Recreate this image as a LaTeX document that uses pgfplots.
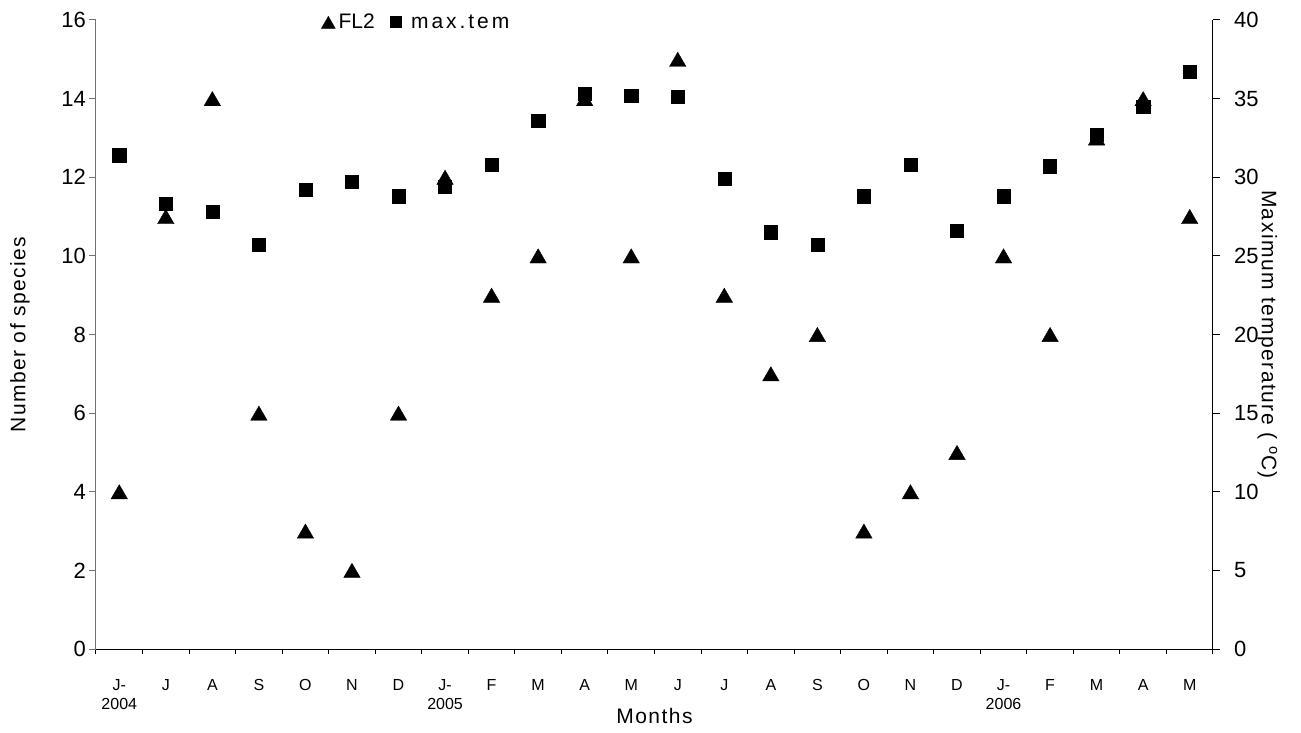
\documentclass[border=0pt]{standalone}
\usepackage{fontspec}
\setmainfont{Liberation Sans}
\newfontfamily\spaced[LetterSpace=7]{Liberation Sans}
\newfontfamily\wide[LetterSpace=14]{Liberation Sans}
\usepackage{pgfplots}
\usepackage{pgfplotstable}
\pgfplotsset{compat=1.18}

\pgfplotstableread{
x fl2 tem
0 4 31.4
1 11 28.3
2 14 27.8
3 6 25.7
4 3 29.2
5 2 29.7
6 6 28.8
7 12 29.4
8 9 30.8
9 10 33.6
10 14 35.3
11 10 35.2
12 15 35.1
13 9 29.9
14 7 26.5
15 8 25.7
16 3 28.8
17 4 30.8
18 5 26.6
19 10 28.8
20 8 30.7
21 13 32.7
22 14 34.5
23 11 36.7
}\data

\begin{document}
\begin{tikzpicture}
\useasboundingbox (-96bp,-84bp) rectangle (1205bp,649bp);
\begin{axis}[
  at={(0,0)}, anchor=south west,
  scale only axis, width=1117bp, height=629bp,
  xmin=-0.5, xmax=23.5, ymin=0, ymax=16,
  axis x line*=bottom, axis y line*=left,
  x axis line style={black, line width=1bp},
  y axis line style={black!55, line width=1bp},
  tick align=outside,
  xtick={0,...,23},
  xticklabels={J-,J,A,S,O,N,D,J-,F,M,A,M,J,J,A,S,O,N,D,J-,F,M,A,M},
  minor xtick={-0.5,0.5,...,23.5},
  major x tick style={draw=none},
  minor x tick style={black, line width=1bp},
  minor tick length=5bp,
  major tick length=6.7bp,
  ytick={0,2,...,16},
  y tick style={black!55, line width=1bp},
  /pgf/number format/assume math mode=true,
  yticklabel style={font=\fontsize{22bp}{26bp}\selectfont},
  xticklabel style={font=\fontsize{16bp}{19bp}\selectfont, anchor=base, yshift=-35bp},
  extra x ticks={0,7,19},
  extra x tick labels={2004,2005,2006},
  extra x tick style={major tick length=0pt, xticklabel style={yshift=-25bp}},
  ylabel={\spaced Number of species},
  ylabel style={font=\fontsize{21bp}{25bp}\selectfont, at={(axis description cs:-0.068,0.5)}, anchor=center},
  xlabel={\spaced Months},
  xlabel style={font=\fontsize{21bp}{25bp}\selectfont, at={(axis description cs:0.5,0)}, yshift=-66.5bp, anchor=center},
  legend columns=-1,
  legend image code/.code={\path (0bp,0bp) (16bp,0bp); \draw[#1, /tikz/every mark/.append style={scale=0.85}] plot coordinates {(8bp,0bp)};},
  legend style={draw=none, fill=none, inner sep=0pt, at={(axis description cs:0.2005,0.9968)}, anchor=west,
    font=\fontsize{21bp}{25bp}\selectfont,
    /tikz/every even column/.append style={column sep=11bp}},
]
\addplot[only marks, mark=triangle*, mark size=9.5bp, mark options={yshift=-2.4bp}, black] table[x=x, y=fl2]{\data};
\addlegendentry{FL2}
\addlegendimage{only marks, mark=square*, mark size=6.6bp, black}
\addlegendentry{\hspace{5bp}{\wide max.tem}}
\end{axis}
\begin{axis}[
  at={(0,0)}, anchor=south west,
  scale only axis, width=1117bp, height=629bp,
  xmin=-0.5, xmax=23.5, ymin=0, ymax=40,
  axis x line=none, axis y line*=right,
  y axis line style={black, line width=1bp},
  tick align=outside,
  ytick={0,5,...,40},
  y tick style={black, line width=1bp},
  major tick length=6.7bp,
  /pgf/number format/assume math mode=true,
  yticklabel style={font=\fontsize{22bp}{26bp}\selectfont, xshift=11bp},
  ylabel={\spaced Maximum temperature ( \textsuperscript{o}C)},
  ylabel style={font=\fontsize{21bp}{25bp}\selectfont, at={(axis description cs:1.0488,0.5)}, anchor=center, rotate=180},
]
\addplot[only marks, mark=square*, mark size=6.6bp, black] table[x=x, y=tem]{\data};
\end{axis}
\end{tikzpicture}
\end{document}
